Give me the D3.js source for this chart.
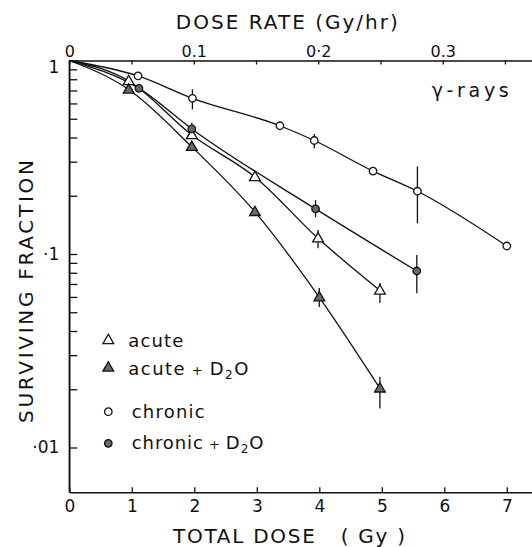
<!DOCTYPE html>
<html>
<head>
<meta charset="utf-8">
<script src="https://cdn.jsdelivr.net/npm/d3@7"></script>
<style>
  html, body { margin: 0; padding: 0; background: #fff; }
  svg { display: block; }
  text { font-family: "DejaVu Sans", sans-serif; fill: #111; }
</style>
</head>
<body>
<svg id="chart" width="532" height="547"></svg>
<script>
// ---------- data ----------
const doseTicks = [0, 1, 2, 3, 4, 5, 6, 7];
const rateTicks = [0, 0.05, 0.1, 0.15, 0.2, 0.25, 0.3, 0.35];
const rateLabels = {0: "0", 0.1: "0.1", 0.2: "0·2", 0.3: "0.3"};
const sfMajor = [1, 0.1, 0.01];
const sfLabels = ["1", "·1", "·01"];
const sfMinor = [0.9, 0.8, 0.7, 0.6, 0.5, 0.4, 0.3, 0.2, 0.09, 0.08, 0.07, 0.06, 0.05, 0.04, 0.03, 0.02];

const originDose = 0, originSF = 1;

const acuteDose = [0.95, 1.96, 2.97, 3.98, 4.97];
const acuteSF = [0.784, 0.412, 0.250, 0.1205, 0.0648];
const acuteErrLo = [null, null, null, 0.107, 0.0558];
const acuteErrHi = [null, null, null, 0.133, 0.0708];

const acuteD2ODose = [0.95, 1.96, 2.97, 4.0, 4.97];
const acuteD2OSF = [0.708, 0.358, 0.165, 0.0597, 0.0202];
const acuteD2OErrLo = [null, null, null, 0.0532, 0.0159];
const acuteD2OErrHi = [null, null, null, 0.0667, 0.0232];

const chronicDose = [1.10, 1.97, 3.37, 3.92, 4.86, 5.57, 7.0];
const chronicSF = [0.832, 0.638, 0.460, 0.386, 0.268, 0.211, 0.110];
const chronicErrLo = [null, 0.559, null, 0.352, null, 0.144, null];
const chronicErrHi = [null, 0.710, null, 0.417, null, 0.283, null];

const chronicD2ODose = [1.115, 1.96, 3.94, 5.56];
const chronicD2OSF = [0.718, 0.443, 0.171, 0.0817];
const chronicD2OErrLo = [null, 0.41, 0.155, 0.0626];
const chronicD2OErrHi = [null, 0.477, 0.190, 0.0988];

const seriesNames = ["acute", "acute + D2O", "chronic", "chronic + D2O"];

// ---------- layout ----------
(function () {
const svg = d3.select("#chart");
const W = 532, H = 547;
const mLeft = 69.3, mRight = 532, mTop = 60.5, mBottom = 492.3;
const ink = "#111";
const grey = "#6a6a6a";

svg.append("rect").attr("width", W).attr("height", H).attr("fill", "#fff");

const x = d3.scaleLinear().domain([0, (mRight - mLeft) / 62.5]).range([mLeft, mRight]);
const xr = d3.scaleLinear().domain([0, (mRight - mLeft) / 1244.7]).range([mLeft, mRight]);
const y = d3.scaleLog().domain([1, Math.pow(10, -(mBottom - mTop) / 193.5)]).range([mTop, mBottom]);

// ---------- axes ----------
const axisStyle = g => {
  g.select(".domain").attr("stroke", ink).attr("stroke-width", 1.4);
  g.selectAll(".tick line").attr("stroke", ink).attr("stroke-width", 1.3);
  g.selectAll("text").attr("fill", ink).attr("font-family", "DejaVu Sans, sans-serif");
};

// bottom
svg.append("g").attr("transform", `translate(0,${mBottom})`)
  .call(d3.axisBottom(x).tickValues(doseTicks).tickFormat(d3.format("d"))
    .tickSizeInner(-5).tickSizeOuter(0).tickPadding(8))
  .call(axisStyle)
  .call(g => g.selectAll("text").attr("font-size", 17));

// top
svg.append("g").attr("transform", `translate(0,${mTop})`)
  .call(d3.axisTop(xr).tickValues(rateTicks).tickFormat(d => rateLabels[d] || "")
    .tickSizeInner(-4).tickSizeOuter(0).tickPadding(4))
  .call(axisStyle)
  .call(g => g.selectAll("text").attr("font-size", 16));

// left
const leftAxis = svg.append("g").attr("transform", `translate(${mLeft},0)`)
  .call(d3.axisLeft(y).tickValues(sfMajor.concat(sfMinor))
    .tickFormat(d => { const i = sfMajor.indexOf(d); return i >= 0 ? sfLabels[i] : ""; })
    .tickSizeInner(-8).tickSizeOuter(0).tickPadding(10))
  .call(axisStyle)
  .call(g => g.selectAll("text").attr("font-size", 17));
leftAxis.selectAll(".tick").filter(d => d === 1).select("text").attr("dy", "0.72em");
svg.append("line").attr("x1", mLeft).attr("x2", mLeft).attr("y1", mTop).attr("y2", mBottom)
  .attr("stroke", ink).attr("stroke-width", 1.4);

// ---------- titles ----------
svg.append("text").attr("x", 175.8).attr("y", 29).attr("font-size", 20)
  .attr("textLength", 222).attr("lengthAdjust", "spacing").text("DOSE RATE (Gy/hr)");
svg.append("text").attr("x", 173).attr("y", 543).attr("font-size", 20)
  .attr("textLength", 232).attr("lengthAdjust", "spacing").text("TOTAL DOSE\u00a0\u00a0 ( Gy )");
svg.append("text").attr("transform", "translate(33,423) rotate(-90)").attr("font-size", 20)
  .attr("textLength", 263).attr("lengthAdjust", "spacing").text("SURVIVING FRACTION");
svg.append("text").attr("x", 431.7).attr("y", 96.7).attr("font-size", 19)
  .attr("textLength", 77).attr("lengthAdjust", "spacing").text("γ-rays");

// ---------- series ----------
const series = [
  {name: seriesNames[0], dose: acuteDose, sf: acuteSF, lo: acuteErrLo, hi: acuteErrHi, shape: "tri", filled: false},
  {name: seriesNames[1], dose: acuteD2ODose, sf: acuteD2OSF, lo: acuteD2OErrLo, hi: acuteD2OErrHi, shape: "tri", filled: true},
  {name: seriesNames[2], dose: chronicDose, sf: chronicSF, lo: chronicErrLo, hi: chronicErrHi, shape: "circ", filled: false},
  {name: seriesNames[3], dose: chronicD2ODose, sf: chronicD2OSF, lo: chronicD2OErrLo, hi: chronicD2OErrHi, shape: "circ", filled: true}
];

const line = d3.line().x(d => x(d[0])).y(d => y(d[1])).curve(d3.curveMonotoneX);

series.forEach(s => {
  const pts = [[originDose, originSF]].concat(s.dose.map((d, i) => [d, s.sf[i]]));
  svg.append("path").attr("d", line(pts)).attr("fill", "none")
    .attr("stroke", ink).attr("stroke-width", 1.3);
});

series.forEach(s => {
  s.dose.forEach((d, i) => {
    if (s.lo[i] != null) {
      svg.append("line").attr("x1", x(d)).attr("x2", x(d))
        .attr("y1", y(s.hi[i])).attr("y2", y(s.lo[i]))
        .attr("stroke", ink).attr("stroke-width", 1.3);
    }
  });
});

const triSym = d3.symbol().type(d3.symbolTriangle).size(50);
const circSym = d3.symbol().type(d3.symbolCircle).size(44);

function marker(g, s, cx, cy) {
  const p = s.shape === "tri" ? triSym() : circSym();
  g.append("path").attr("d", p)
    .attr("transform", `translate(${cx},${cy + (s.shape === "tri" ? 0.5 : 0)})`)
    .attr("fill", s.filled ? grey : "#fff")
    .attr("stroke", ink).attr("stroke-width", 1.3);
}

series.forEach(s => {
  s.dose.forEach((d, i) => marker(svg, s, x(d), y(s.sf[i])));
});

// ---------- legend ----------
const legendY = [340, 367.5, 411.7, 443.3];
const legendTextY = [346.7, 375, 418, 448.5];
const legendTextX = [128.3, 128.3, 131.7, 131.7];
const legendWidth = [55, 120, 73, 131.7];
series.forEach((s, i) => {
  marker(svg, s, 108.3, legendY[i]);
  const t = svg.append("text").attr("x", legendTextX[i]).attr("y", legendTextY[i])
    .attr("font-size", 18).attr("textLength", legendWidth[i]).attr("lengthAdjust", "spacing");
  const parts = s.name.split(" + ");
  t.append("tspan").text(parts[0]);
  if (parts.length > 1) {
    t.append("tspan").attr("font-size", 13).text(" + ");
    const sub = parts[1];
    t.append("tspan").text(sub[0]);
    t.append("tspan").attr("font-size", 12).attr("dy", 4).text(sub[1]);
    t.append("tspan").attr("dy", -4).text(sub.slice(2));
  }
});
})();
</script>
</body>
</html>
